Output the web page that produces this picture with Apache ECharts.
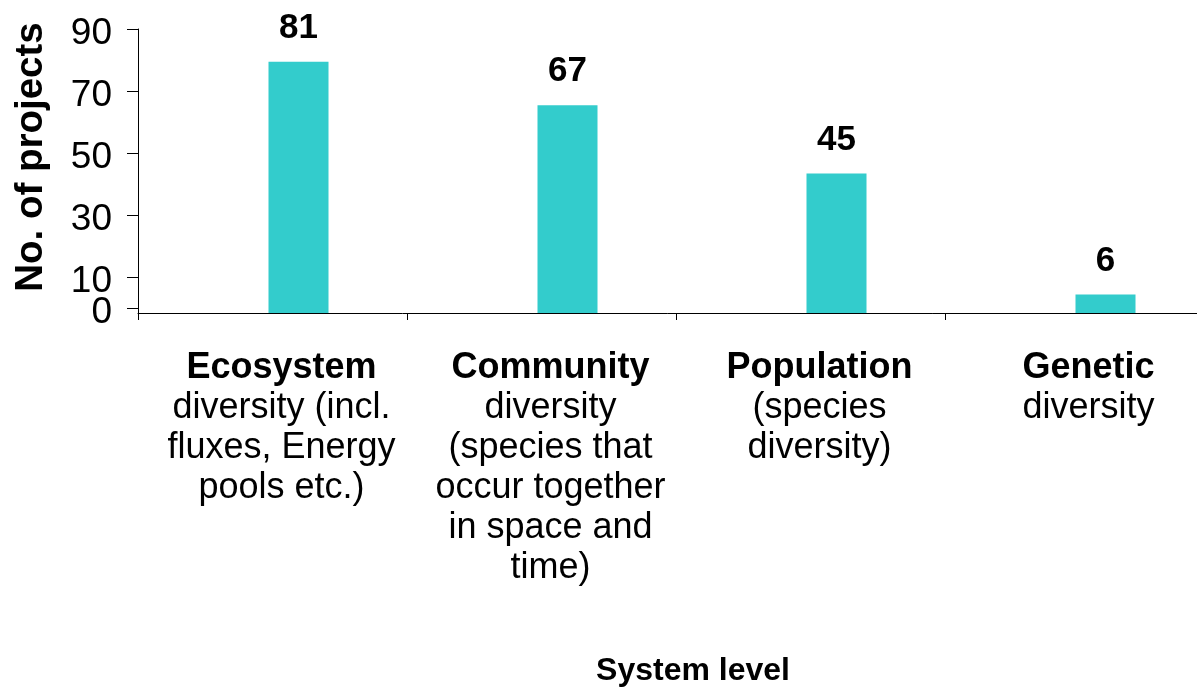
<!DOCTYPE html>
<html>
<head>
<meta charset="utf-8">
<script src="https://cdn.jsdelivr.net/npm/echarts@6/dist/echarts.min.js"></script>
<style>
html, body { margin: 0; padding: 0; background: #ffffff; }
#chart { width: 1197px; height: 690px; }
</style>
</head>
<body>
<div id="chart"></div>
<script>
const categories = ['Ecosystem', 'Community', 'Population', 'Genetic'];
const categoryDetails = [
  'diversity (incl.\nfluxes, Energy\npools etc.)',
  'diversity\n(species that\noccur together\nin space and\ntime)',
  '(species\ndiversity)',
  'diversity'
];
const projectCounts = [81, 67, 45, 6];
const yTickValues = [0, 10, 30, 50, 70, 90];
const yAxisTitle = 'No. of projects';
const xAxisTitle = 'System level';

const FONT = "'Liberation Sans', Arial, Helvetica, sans-serif";
const chart = echarts.init(document.getElementById('chart'), null, { renderer: 'canvas' });

const lineStyle = { color: '#000000', width: 1 };

function labelAxis(values) {
  return {
    gridIndex: 0,
    type: 'value',
    position: 'left',
    offset: 0,
    min: 0,
    max: 91.6,
    splitLine: { show: false },
    axisLine: { show: false },
    axisTick: { show: false },
    axisLabel: {
      customValues: values,
      showMinLabel: true,
      showMaxLabel: true,
      hideOverlap: false,
      margin: 26,
      fontFamily: FONT,
      fontSize: 37,
      color: '#000'
    }
  };
}

const option = {
  animation: false,
  backgroundColor: '#ffffff',
  grid: [
    { left: 138, width: 1076, top: 29, height: 284, outerBoundsMode: 'none', containLabel: false },
    { left: 164, width: 1076, top: 29, height: 284, outerBoundsMode: 'none', containLabel: false }
  ],
  xAxis: [
    {
      gridIndex: 0,
      type: 'category',
      data: categories,
      boundaryGap: true,
      axisLine: { show: true, onZero: false, lineStyle: lineStyle },
      axisTick: { show: true, length: 7, lineStyle: lineStyle },
      axisLabel: {
        interval: 0,
        margin: 35,
        padding: [0, 0, 0, 18],
        hideOverlap: false,
        formatter: function (v, i) {
          return '{b|' + v + '}\n' + categoryDetails[i].split('\n').map(function (s) { return '{r|' + s + '}'; }).join('\n');
        },
        rich: {
          b: { fontFamily: FONT, fontSize: 36, fontWeight: 'bold', lineHeight: 40, color: '#000', align: 'center' },
          r: { fontFamily: FONT, fontSize: 36, lineHeight: 40, color: '#000', align: 'center' }
        }
      },
      splitLine: { show: false },
      name: xAxisTitle,
      nameLocation: 'middle',
      nameGap: 342,
      nameTextStyle: { fontFamily: FONT, fontSize: 32, fontWeight: 'bold', color: '#000', padding: [0, 0, 0, 34] }
    },
    { gridIndex: 1, type: 'category', data: categories, show: false }
  ],
  yAxis: [
    {
      gridIndex: 0,
      type: 'value',
      position: 'left',
      min: -1.6,
      max: 90,
      splitLine: { show: false },
      axisLine: { show: true, lineStyle: lineStyle },
      axisTick: { show: true, length: 11, customValues: yTickValues, lineStyle: lineStyle },
      axisLabel: { show: false },
      name: yAxisTitle,
      nameLocation: 'middle',
      nameRotate: 90,
      nameGap: 87,
      nameTextStyle: { fontFamily: FONT, fontSize: 38.5, fontWeight: 'bold', color: '#000', padding: [0, 0, 0, 28] }
    },
    { gridIndex: 1, type: 'value', min: 0, max: 91.6, show: false, splitLine: { show: false } },
    labelAxis(yTickValues.slice(1)),
    labelAxis(yTickValues.slice(0, 1))
  ],
  series: [
    {
      type: 'bar',
      xAxisIndex: 1,
      yAxisIndex: 1,
      data: projectCounts,
      barWidth: 60,
      itemStyle: { color: '#33CCCC' },
      label: {
        show: true,
        position: 'top',
        distance: 16,
        fontFamily: FONT,
        fontSize: 35,
        fontWeight: 'bold',
        color: '#000'
      }
    }
  ]
};
chart.setOption(option);
</script>
</body>
</html>
